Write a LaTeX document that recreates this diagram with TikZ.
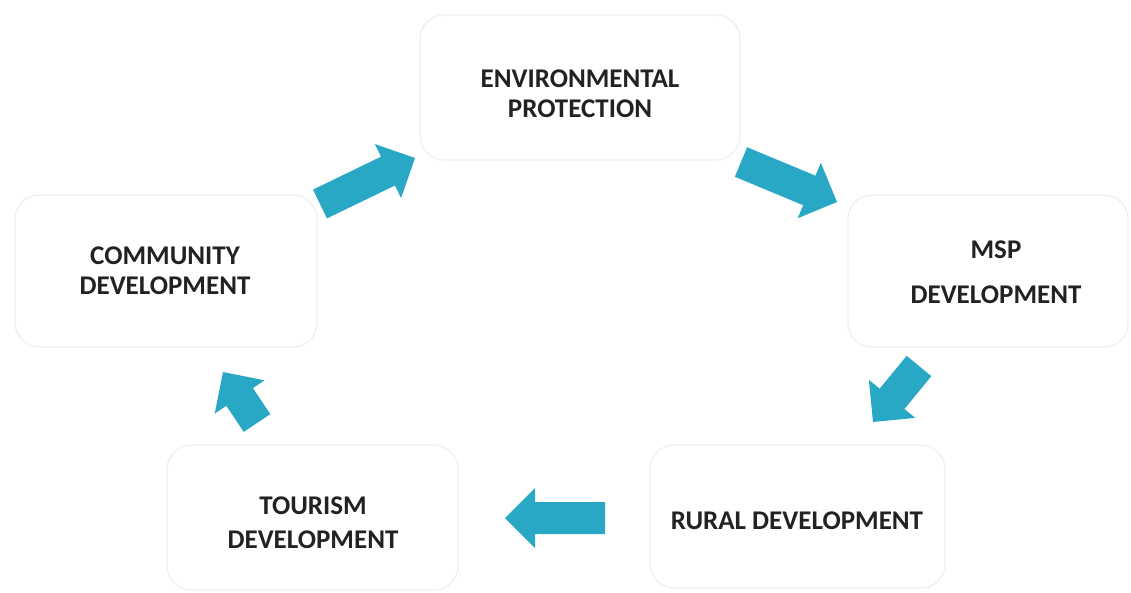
\documentclass[tikz,border=0pt]{standalone}
\usepackage{fontspec}
\setmainfont{Carlito}
\usetikzlibrary{calc}

\definecolor{flowteal}{RGB}{40,168,197}
\definecolor{labelink}{RGB}{34,34,34}
\definecolor{boxedge}{RGB}{240,240,240}

% Block arrow from tail coordinate #1 to tip coordinate #2
\newcommand{\flowarrow}[2]{%
  \coordinate (hb) at ($(#2)!30pt!(#1)$);
  \fill[flowteal]
    ($(#1)!16pt!90:(#2)$) --
    ($(hb)!16pt!-90:(#1)$) --
    ($(hb)!30pt!-90:(#1)$) --
    (#2) --
    ($(hb)!30pt!90:(#1)$) --
    ($(hb)!16pt!90:(#1)$) --
    ($(#1)!16pt!-90:(#2)$) -- cycle;
}

\begin{document}
\begin{tikzpicture}[x=1pt,y=-1pt,
  stagebox/.style={draw=boxedge, line width=1.2pt, rounded corners=24pt, fill=white},
  stagetext/.style={anchor=north, inner sep=0pt, align=center, text=labelink,
    font=\fontsize{27}{30}\selectfont\bfseries}
]
\useasboundingbox (0,0) rectangle (1131,592);
\fill[white] (0,0) rectangle (1131,592);

% stage boxes
\draw[stagebox] (420,15)  rectangle (740,160) node[midway] (envbox) {};
\draw[stagebox] (15,195)  rectangle (317,347) node[midway] (commbox) {};
\draw[stagebox] (848,195) rectangle (1128,347) node[midway] (mspbox) {};
\draw[stagebox] (167,445) rectangle (458,590) node[midway] (tourbox) {};
\draw[stagebox] (650,445) rectangle (945,588) node[midway] (ruralbox) {};

% stage labels
\node[stagetext] (env)   at (580,70)  {ENVIRONMENTAL\\PROTECTION};
\node[stagetext] (comm)  at (165,247) {COMMUNITY\\DEVELOPMENT};
\node[stagetext] (msp)   at (996,241) {MSP\\[15pt]DEVELOPMENT};
\node[stagetext] (tour)  at (313,497) {TOURISM\\[4pt]DEVELOPMENT};
\node[stagetext] (rural) at (797,512) {RURAL DEVELOPMENT};

% arrow ends
\coordinate (c2e-tail) at (320,204);
\coordinate (c2e-tip)  at (415,158);
\coordinate (e2m-tail) at (741,162);
\coordinate (e2m-tip)  at (837,202);
\coordinate (m2r-tail) at (919,366);
\coordinate (m2r-tip)  at (873,422);
\coordinate (r2t-tail) at (605,518);
\coordinate (r2t-tip)  at (505,518);
\coordinate (t2c-tail) at (257,423);
\coordinate (t2c-tip)  at (223,372);

% cycle arrows
\flowarrow{c2e-tail}{c2e-tip}
\flowarrow{e2m-tail}{e2m-tip}
\flowarrow{m2r-tail}{m2r-tip}
\flowarrow{r2t-tail}{r2t-tip}
\flowarrow{t2c-tail}{t2c-tip}
\end{tikzpicture}
\end{document}
